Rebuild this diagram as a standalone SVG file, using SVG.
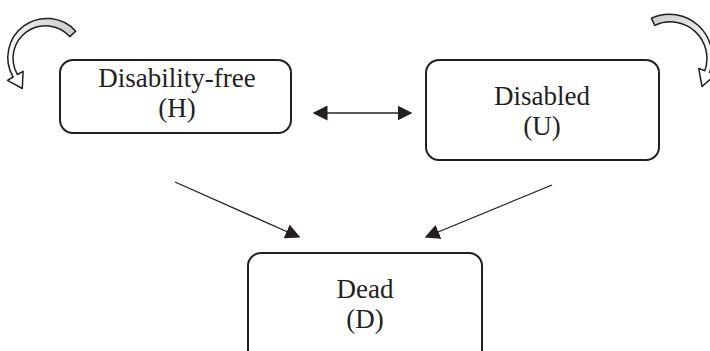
<svg xmlns="http://www.w3.org/2000/svg" width="710" height="351" viewBox="0 0 710 351">
<style>
.box{fill:#fff;stroke:#231f20;stroke-width:2}
.lbl{font-family:"Liberation Serif",serif;font-size:27px;fill:#231f20;text-anchor:middle}
.con{stroke:#231f20;stroke-width:1.3;fill:none}
.loop{stroke:#231f20;stroke-width:1.5;stroke-linejoin:round}
</style>
<defs>
<marker id="ah" viewBox="0 0 10 10" refX="9" refY="5" markerWidth="15" markerHeight="15" markerUnits="userSpaceOnUse" orient="auto-start-reverse">
<path d="M0,0 L10,5 L0,10 z" fill="#231f20"/>
</marker>
<linearGradient id="gL" gradientUnits="userSpaceOnUse" x1="75" y1="32" x2="15" y2="72">
<stop offset="0" stop-color="#cfcfcf"/><stop offset="0.6" stop-color="#ececec"/><stop offset="1" stop-color="#fff"/>
</linearGradient>
<linearGradient id="gR" gradientUnits="userSpaceOnUse" x1="652" y1="20" x2="707" y2="72">
<stop offset="0" stop-color="#cfcfcf"/><stop offset="0.6" stop-color="#ececec"/><stop offset="1" stop-color="#fff"/>
</linearGradient>
</defs>
<rect width="710" height="351" fill="#fff"/>
<g id="node-H">
<rect class="box" x="60" y="60" width="231" height="73" rx="13"/>
<text class="lbl" x="177" y="87">Disability-free</text>
<text class="lbl" x="177" y="117">(H)</text>
</g>
<g id="node-U">
<rect class="box" x="426" y="60" width="233" height="100" rx="13"/>
<text class="lbl" x="542" y="105">Disabled</text>
<text class="lbl" x="542" y="135">(U)</text>
</g>
<g id="node-D">
<rect class="box" x="248" y="253" width="234" height="110" rx="13"/>
<text class="lbl" x="365" y="298">Dead</text>
<text class="lbl" x="365" y="328">(D)</text>
</g>
<g id="connectors">
<line class="con" x1="314" y1="113" x2="411" y2="113" marker-start="url(#ah)" marker-end="url(#ah)"/>
<line class="con" x1="175" y1="182" x2="299" y2="237" marker-end="url(#ah)"/>
<line class="con" x1="552" y1="185" x2="426" y2="237" marker-end="url(#ah)"/>
<path id="loop-H" class="loop" fill="url(#gL)" d="M75.7,31.2 A39 39 0 0 0 13.1,77 L7.5,80.3 L22.3,88.5 L23.1,71.3 L17.4,74.5 A32.5 32.5 0 0 1 69.8,36.6 Z"/>
<path id="loop-U" class="loop" fill="url(#gR)" d="M651.4,18.1 A43 43 0 0 1 709.5,72.4 L715.6,74.6 L702,86.5 L698.7,68.4 L704.8,70.7 A36.5 36.5 0 0 0 654.8,25.4 Z"/>
</g>
</svg>
